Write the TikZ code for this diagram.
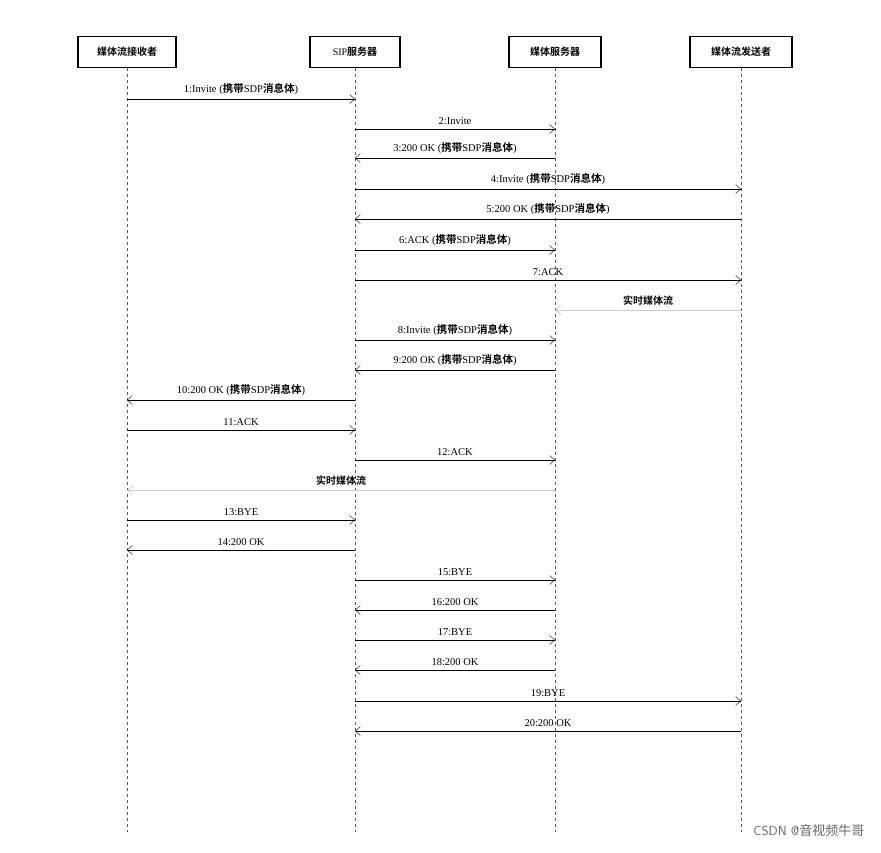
\documentclass[tikz,border=0pt]{standalone}
\usepackage{fontspec}
\setmainfont{Liberation Serif}
\newfontfamily\cjk{Noto Sans CJK SC}[BoldFont={Noto Sans CJK SC Bold}]
\usetikzlibrary{arrows.meta,calc}

\begin{document}
\begin{tikzpicture}[x=1pt,y=1pt,font=\fontsize{10.5}{12}\selectfont,
  actor/.style={draw,line width=1.4pt,minimum height=31pt,inner xsep=8pt,font=\fontsize{10}{12}\selectfont\cjk\bfseries},
  life/.style={dashed,thin,gray!70!black},
  msg/.style={-{Straight Barb[length=5pt,width=9pt]},thin},
  media/.style={msg,gray!40,thick},
  lbl/.style={above=3pt,inner sep=1pt}]
\useasboundingbox (0,0) rectangle (881,-852);

%%%%%%%%%%%%%%%%%%Draw The Actors And Lifelines%%%%%%%%%%%%%%%
\coordinate (rx) at (127,0);
\coordinate (sip) at (355,0);
\coordinate (ms) at (555,0);
\coordinate (sd) at (741,0);
\node[actor,minimum width=98pt] (rxbox) at (127,-52) {媒体流接收者};
\node[actor,minimum width=90pt] (sipbox) at (355,-52) {{\rmfamily\mdseries SIP}服务器};
\node[actor,minimum width=92pt] (msbox) at (555,-52) {媒体服务器};
\node[actor,minimum width=102pt] (sdbox) at (741,-52) {媒体流发送者};
\foreach \a in {rx,sip,ms,sd}{
  \coordinate (\a end) at ($(\a)+(0,-832)$);
  \draw[life] (\a box.south) -- (\a end);
}

%%%%%%%%%%%%%%%%%%Draw The Messages%%%%%%%%%%%%%%%%%%%%%%%%%%%
\foreach \i/\a/\b/\y/\t in {
  1/rx/sip/99/{1:Invite ({\cjk\bfseries 携带}SDP{\cjk\bfseries 消息体})},
  2/sip/ms/129/{2:Invite},
  3/ms/sip/158/{3:200 OK ({\cjk\bfseries 携带}SDP{\cjk\bfseries 消息体})},
  4/sip/sd/189/{4:Invite ({\cjk\bfseries 携带}SDP{\cjk\bfseries 消息体})},
  5/sd/sip/219/{5:200 OK ({\cjk\bfseries 携带}SDP{\cjk\bfseries 消息体})},
  6/sip/ms/250/{6:ACK ({\cjk\bfseries 携带}SDP{\cjk\bfseries 消息体})},
  7/sip/sd/280/{7:ACK},
  8/sip/ms/340/{8:Invite ({\cjk\bfseries 携带}SDP{\cjk\bfseries 消息体})},
  9/ms/sip/370/{9:200 OK ({\cjk\bfseries 携带}SDP{\cjk\bfseries 消息体})},
  10/sip/rx/400/{10:200 OK ({\cjk\bfseries 携带}SDP{\cjk\bfseries 消息体})},
  11/rx/sip/430/{11:ACK},
  12/sip/ms/460/{12:ACK},
  13/rx/sip/520/{13:BYE},
  14/sip/rx/550/{14:200 OK},
  15/sip/ms/580/{15:BYE},
  16/ms/sip/610/{16:200 OK},
  17/sip/ms/640/{17:BYE},
  18/ms/sip/670/{18:200 OK},
  19/sip/sd/701/{19:BYE},
  20/sd/sip/731/{20:200 OK}}{
  \coordinate (m\i a) at ($(\a)+(0,-\y)$);
  \coordinate (m\i b) at ($(\b)+(0,-\y)$);
  \draw[msg] (m\i a) -- node[lbl] {\t} (m\i b);
}

%%%%%%%%%%%%%%%%%%Draw The Media Streams%%%%%%%%%%%%%%%%%%%%%%
\coordinate (s1a) at ($(sd)+(0,-310)$);
\coordinate (s1b) at ($(ms)+(0,-310)$);
\draw[media] (s1a) -- node[lbl,black,font=\fontsize{10}{12}\selectfont\cjk\bfseries] {实时媒体流} (s1b);
\coordinate (s2a) at ($(ms)+(0,-490)$);
\coordinate (s2b) at ($(rx)+(0,-490)$);
\draw[media] (s2a) -- node[lbl,black,font=\fontsize{10}{12}\selectfont\cjk\bfseries] {实时媒体流} (s2b);

\node[anchor=south east,font=\fontsize{13}{15}\selectfont\sffamily,gray!80!black] (mark) at (868,-840) {CSDN @{\cjk 音视频牛哥}};
\end{tikzpicture}
\end{document}
